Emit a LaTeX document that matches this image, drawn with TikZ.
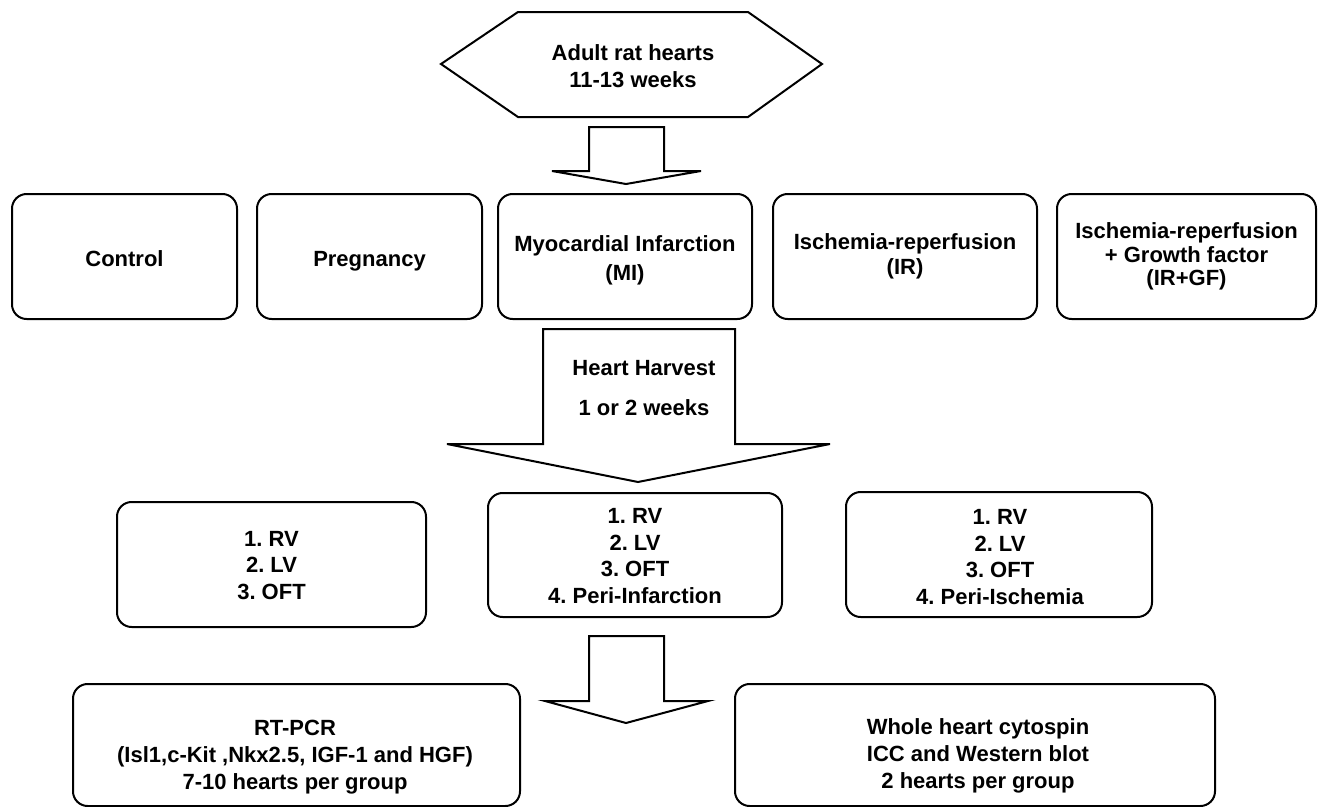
\documentclass[tikz,border=0pt]{standalone}
\usepackage{fontspec}
\setmainfont{Liberation Sans}
\frenchspacing
\begin{document}
\begin{tikzpicture}[x=0.75pt,y=-0.75pt,
  line join=miter,
  box/.style={draw=black, line width=1.5pt, rounded corners=11pt, inner sep=0pt, align=center},
  txt/.style={inner sep=0pt, align=center, yshift=-3pt, font=\bfseries\fontsize{16.5pt}{19.9pt}\selectfont,
    execute at begin node=\strut, execute at end node=\strut},
  txttop/.style={txt, font=\bfseries\fontsize{16.5pt}{17.6pt}\selectfont},
  blockarrow/.style={draw=black, line width=1.5pt, fill=white}]
\useasboundingbox (0,0) rectangle (1318,807);
% top hexagon
\draw[blockarrow] (441,64) -- (518,12) -- (748,12) -- (822,64) -- (748,117) -- (518,117) -- cycle;
\node[txt] (hex) at (633,66) {Adult rat hearts\\11-13 weeks};
% arrow 1
\draw[blockarrow] (589,127) -- (664,127) -- (664,171) -- (701,171) -- (626,184) -- (552,171) -- (589,171) -- cycle;
% row of conditions
\node[box, minimum width=168.75pt, minimum height=93.75pt] (ctrl) at (124.5,256.5) {};
\node[txt] at (124.5,257) {Control};
\node[box, minimum width=168.75pt, minimum height=93.75pt] (preg) at (369.5,256.5) {};
\node[txt] at (369.5,257) {Pregnancy};
\node[box, minimum width=190.5pt, minimum height=93.75pt] (mi) at (625,256.5) {};
\node[txt, font=\bfseries\fontsize{16.5pt}{21.5pt}\selectfont] at (625,258) {Myocardial Infarction\\(MI)};
\node[box, minimum width=198pt, minimum height=93.75pt] (ir) at (905,256.5) {};
\node[txt, font=\bfseries\fontsize{16.5pt}{18.5pt}\selectfont] at (905,254) {Ischemia-reperfusion\\(IR)};
\node[box, minimum width=194.25pt, minimum height=93.75pt] (irgf) at (1186.5,256.5) {};
\node[txttop] at (1186.5,254) {Ischemia-reperfusion\\+ Growth factor\\(IR+GF)};
% arrow 2
\draw[blockarrow] (543,329) -- (735,329) -- (735,444) -- (830,444) -- (638,482) -- (447,444) -- (543,444) -- cycle;
\node[txt] (hh) at (644,366) {Heart Harvest};
\node[txt] (wk) at (644,406) {1 or 2 weeks};
% regions row
\node[box, minimum width=231.75pt, minimum height=93.75pt] (r1) at (271.5,564.5) {};
\node[txt] at (271.5,565) {1. RV\\2. LV\\3. OFT};
\node[box, minimum width=220.5pt, minimum height=93pt] (r2) at (635,555) {};
\node[txt] at (635,556) {1. RV\\2. LV\\3. OFT\\4. Peri-Infarction};
\node[box, minimum width=229.5pt, minimum height=93.75pt] (r3) at (999,554.5) {};
\node[txt] at (1000,557) {1. RV\\2. LV\\3. OFT\\4. Peri-Ischemia};
% arrow 3
\draw[blockarrow] (589,636) -- (664,636) -- (664,701) -- (708,701) -- (626,723) -- (545,701) -- (589,701) -- cycle;
% bottom boxes
\node[box, minimum width=335.25pt, minimum height=91.5pt] (b1) at (296.5,745) {};
\node[txt, font=\bfseries\fontsize{16.5pt}{20.3pt}\selectfont] at (295,755) {RT-PCR\\(Isl1,c-Kit ,Nkx2.5, IGF-1 and HGF)\\7-10 hearts per group};
\node[box, minimum width=360pt, minimum height=91.5pt] (b2) at (975,745) {};
\node[txt, font=\bfseries\fontsize{16.5pt}{20.3pt}\selectfont] at (978,754) {Whole heart cytospin\\ICC and Western blot\\2 hearts per group};
\end{tikzpicture}
\end{document}
